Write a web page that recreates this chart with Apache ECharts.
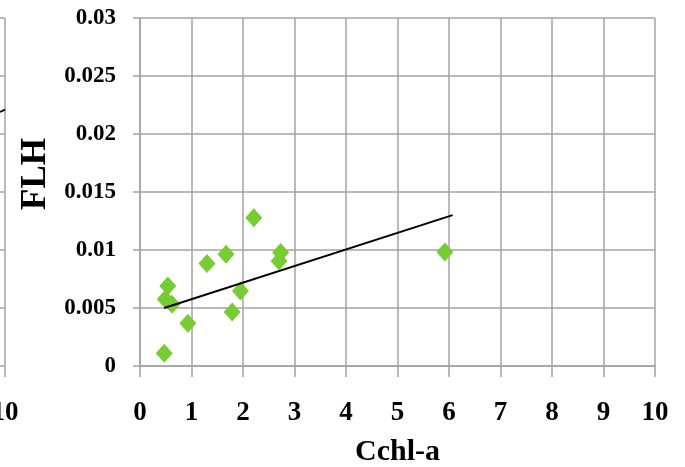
<!DOCTYPE html>
<html>
<head>
<meta charset="utf-8">
<script src="https://cdn.jsdelivr.net/npm/echarts@6/dist/echarts.min.js"></script>
<style>
  html, body { margin: 0; padding: 0; background: #fff; }
  #chart { width: 685px; height: 467px; }
</style>
</head>
<body>
<div id="chart"></div>
<script>
// 测量点 (Cchl-a, FLH)
var cchlValues = [0.47, 0.49, 0.54, 0.62, 0.93, 1.30, 1.67, 1.79, 1.95, 2.21, 2.70, 2.73, 5.92];
var flhValues = [0.0011, 0.00575, 0.0069, 0.00532, 0.00368, 0.00883, 0.00963, 0.00466, 0.00647, 0.01279, 0.00905, 0.00978, 0.00983];
// 趋势线两端
var trendX = [0.47, 6.07];
var trendY = [0.0050, 0.0130];
// 左边相邻图只露出最右一小条
var sideTrendX = [9.9, 10];
var sideTrendY = [0.0219, 0.0221];
// 刻度
var xTicks = [0, 1, 2, 3, 4, 5, 6, 7, 8, 9, 10];
var yTicks = [0, 0.005, 0.01, 0.015, 0.02, 0.025, 0.03];

function zip(xs, ys) {
  return xs.map(function (x, i) { return [x, ys[i]]; });
}

var chart = echarts.init(document.getElementById('chart'), null, { renderer: 'canvas' });

var gridColor = '#a3a3a3';
var serif = '"Liberation Serif", "DejaVu Serif", serif';
var lineStyle = { color: gridColor, width: 1.5 };

var option = {
  backgroundColor: '#fff',
  animation: false,
  grid: [
    { left: 140, right: 30, top: 18, bottom: 101, outerBoundsMode: 'none', containLabel: false },
    { left: 0, width: 5, top: 18, bottom: 101, outerBoundsMode: 'none', containLabel: false }
  ],
  xAxis: [
    {
      type: 'value',
      gridIndex: 0,
      min: xTicks[0],
      max: xTicks[xTicks.length - 1],
      interval: 1,
      name: 'Cchl-a',
      nameLocation: 'middle',
      nameGap: 71,
      nameTextStyle: { fontFamily: serif, fontWeight: 'bold', fontSize: 30, color: '#000' },
      axisLine: { show: true, lineStyle: lineStyle },
      axisTick: { show: true, length: 11, lineStyle: lineStyle },
      axisLabel: { margin: 34, fontFamily: serif, fontWeight: 'bold', fontSize: 27, color: '#000' },
      splitLine: { show: true, lineStyle: lineStyle }
    },
    {
      // 相邻图的 x 轴，只剩下 10
      type: 'value',
      gridIndex: 1,
      min: 9.9,
      max: 10,
      interval: 0.1,
      axisLine: { show: false },
      axisTick: { show: true, length: 11, lineStyle: lineStyle },
      axisLabel: {
        margin: 34, fontFamily: serif, fontWeight: 'bold', fontSize: 27, color: '#000',
        showMinLabel: false,
        formatter: function (v) { return v === 10 ? '10' : ''; }
      },
      splitLine: { show: true, showMinLine: false, lineStyle: lineStyle }
    }
  ],
  yAxis: [
    {
      type: 'value',
      gridIndex: 0,
      min: yTicks[0],
      max: yTicks[yTicks.length - 1],
      interval: 0.005,
      name: 'FLH',
      nameLocation: 'middle',
      nameGap: 79,
      nameRotate: 90,
      nameTextStyle: {
        fontFamily: serif, fontWeight: 'bold', fontSize: 35, color: '#000',
        padding: [0, 0, 0, 36]
      },
      axisLine: { show: true, lineStyle: lineStyle },
      axisTick: { show: true, length: 7, lineStyle: lineStyle },
      axisLabel: {
        margin: 24, fontFamily: serif, fontWeight: 'bold', fontSize: 23, color: '#000',
        formatter: function (v) { return String(+v.toFixed(3)); }
      },
      splitLine: { show: true, lineStyle: lineStyle }
    },
    {
      type: 'value',
      gridIndex: 1,
      min: yTicks[0],
      max: yTicks[yTicks.length - 1],
      interval: 0.005,
      axisLine: { show: false },
      axisTick: { show: false },
      axisLabel: { show: false },
      splitLine: { show: true, lineStyle: lineStyle }
    }
  ],
  series: [
    {
      type: 'scatter',
      xAxisIndex: 0, yAxisIndex: 0,
      data: zip(cchlValues, flhValues),
      symbol: 'diamond',
      symbolSize: [17, 19],
      itemStyle: { color: '#77cc33', opacity: 1 },
      z: 3
    },
    {
      type: 'line',
      xAxisIndex: 0, yAxisIndex: 0,
      data: zip(trendX, trendY),
      symbol: 'none',
      lineStyle: { color: '#000', width: 1.9 },
      z: 4
    },
    {
      type: 'line',
      xAxisIndex: 1, yAxisIndex: 1,
      data: zip(sideTrendX, sideTrendY),
      symbol: 'none',
      lineStyle: { color: '#000', width: 1.9 }
    }
  ]
};

chart.setOption(option);
</script>
</body>
</html>
